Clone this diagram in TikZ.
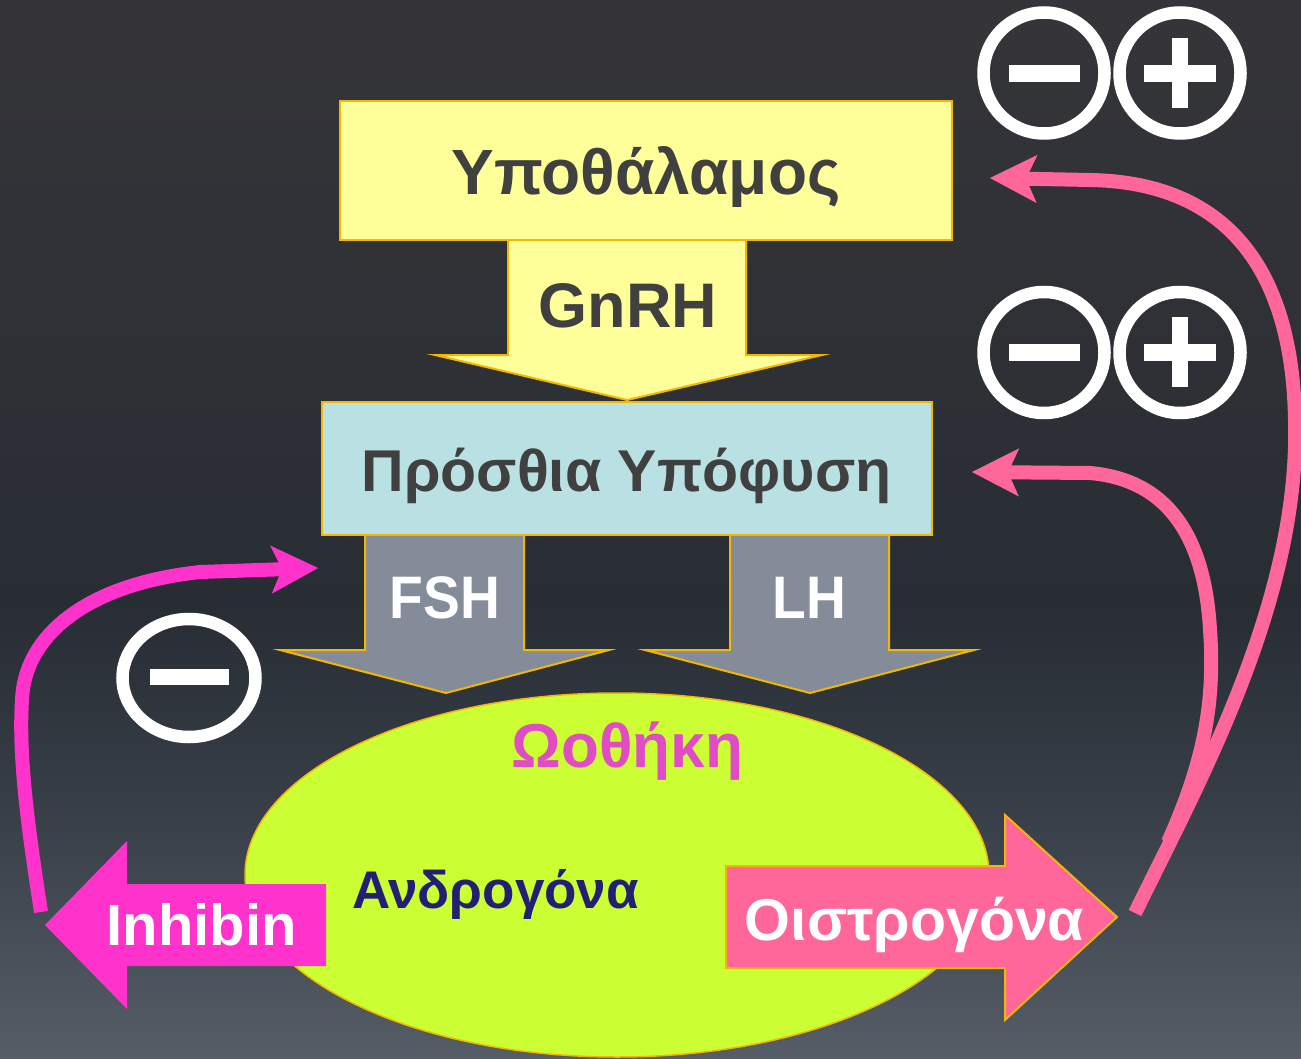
\documentclass[tikz,border=0pt]{standalone}
\usepackage{fontspec}
\setmainfont{Liberation Sans}
\usetikzlibrary{arrows.meta}

\definecolor{bgtop}{HTML}{353539}
\definecolor{bgupper}{HTML}{2F3136}
\definecolor{bgmid}{HTML}{282D34}
\definecolor{bglower}{HTML}{373E47}
\definecolor{bgbot}{HTML}{555D67}
\definecolor{edge}{HTML}{F2B705}
\definecolor{hypfill}{HTML}{FFFF99}
\definecolor{pitfill}{HTML}{B9E0E3}
\definecolor{gonfill}{HTML}{858C99}
\definecolor{ovfill}{HTML}{CCFF33}
\definecolor{darktext}{HTML}{404040}
\definecolor{ovtext}{HTML}{E04CC6}
\definecolor{andtext}{HTML}{221F75}
\definecolor{inhpink}{HTML}{FF33CC}
\definecolor{estpink}{HTML}{FF6699}

% background: dark at the middle, lighter towards the bottom
% (TikZ fits the path to the 25bp..75bp band of the shading)
\pgfdeclareverticalshading{backdrop}{100bp}{%
  color(0bp)=(bgbot); color(25bp)=(bgbot); color(37bp)=(bglower);
  color(46.5bp)=(bgmid); color(61bp)=(bgupper); color(75bp)=(bgtop);
  color(100bp)=(bgtop)}

\begin{document}
\begin{tikzpicture}[x=1pt,y=-1pt,
  boxstyle/.style={draw=edge, line width=2pt, inner sep=0pt, outer sep=0pt},
  blockarrow/.style={draw=edge, line width=2pt, line join=miter},
  lbl/.style={anchor=base, inner sep=0pt, font=\bfseries},
  feedback/.style={line width=14pt,
    -{Stealth[length=47pt,width=48pt,inset=11pt,line width=0.5pt]}},
  ring/.style={draw=white, line width=12.5pt},
  bar/.style={fill=white}
]
% background
\shade[shading=backdrop] (0,0) rectangle (1301,1059);
\useasboundingbox (0,0) rectangle (1301,1059);

% GnRH block arrow
\path[blockarrow, fill=hypfill] (508,238) -- (746,238) -- (746,355) -- (822,355)
  -- (627,400) -- (435,355) -- (508,355) -- cycle;

% hypothalamus box
\node[boxstyle, fill=hypfill, minimum width=612pt, minimum height=139pt] (hyp) at (646,171) {};
\node[lbl, text=darktext, font=\bfseries\fontsize{64}{64}\selectfont] (hyptxt) at (646,195) {Υποθάλαμος};
\node[lbl, text=darktext, font=\bfseries\fontsize{63}{63}\selectfont] (gnrh) at (628,327) {GnRH};

% FSH and LH block arrows
\path[blockarrow, fill=gonfill] (365,533) -- (524,533) -- (524,650) -- (609,650)
  -- (446,693) -- (280,650) -- (365,650) -- cycle;
\path[blockarrow, fill=gonfill] (730,533) -- (889,533) -- (889,650) -- (974,650)
  -- (810,693) -- (645,650) -- (730,650) -- cycle;

% anterior pituitary box
\node[boxstyle, fill=pitfill, minimum width=610pt, minimum height=133pt] (pit) at (627,468.5) {};
\node[lbl, text=darktext, font=\bfseries\fontsize{59}{59}\selectfont] (pittxt) at (626.5,491) {Πρόσθια Υπόφυση};
\node[lbl, text=white, xscale=0.92, font=\bfseries\fontsize{60}{60}\selectfont] (fsh) at (445,618) {FSH};
\node[lbl, text=white, xscale=0.92, font=\bfseries\fontsize{60}{60}\selectfont] (lh) at (809.5,618) {LH};

% ovary
\filldraw[draw=edge, line width=1.5pt, fill=ovfill] (617,875) ellipse [x radius=372pt, y radius=182pt];
\coordinate (ovary) at (617,875);
\node[lbl, text=ovtext, font=\bfseries\fontsize{62}{62}\selectfont] (ovtxt) at (627.5,767) {Ωοθήκη};
\node[lbl, text=andtext, font=\bfseries\fontsize{53}{53}\selectfont] (andr) at (495.5,908) {Ανδρογόνα};

% inhibin block arrow (left)
\fill[inhpink] (326,884) -- (127,884) -- (127,841) -- (45,925) -- (127,1009)
  -- (127,966) -- (326,966) -- cycle;
\node[lbl, text=white, font=\bfseries\fontsize{58}{58}\selectfont] (inh) at (201.5,945) {Inhibin};

% oestrogen block arrow (right)
\path[blockarrow, fill=estpink] (726,866) -- (1005,866) -- (1005,815) -- (1117,917)
  -- (1005,1020) -- (1005,968) -- (726,968) -- cycle;
\node[lbl, text=white, font=\bfseries\fontsize{59}{59}\selectfont] (est) at (914.5,940) {Οιστρογόνα};

% feedback loops
\coordinate (inhStart) at (41,912);
\coordinate (inhEnd) at (318,568);
\coordinate (estStart) at (1135,913);
\coordinate (hypEnd) at (990,178);
\coordinate (estJoin) at (1168,842);
\coordinate (pitEnd) at (972,472);

\draw[feedback, color=inhpink] (inhStart)
  .. controls (30,840) and (18,760) .. (22,700)
  .. controls (24,640) and (80,585) .. (200,572) -- (inhEnd);

\draw[feedback, color=estpink] (estStart)
  .. controls (1200,780) and (1300,600) .. (1295,420)
  .. controls (1292,250) and (1210,182) .. (1090,180) -- (hypEnd);

\draw[feedback, color=estpink] (estJoin)
  .. controls (1205,760) and (1215,700) .. (1210,630)
  .. controls (1205,540) and (1170,480) .. (1090,473) -- (pitEnd);

% sign symbols
\draw[ring] (1044,73) circle[radius=60.5pt];
\fill[bar] (1009,65) rectangle (1080,82);
\draw[ring] (1180,73) circle[radius=60.5pt];
\fill[bar] (1144,65) rectangle (1216,82);
\fill[bar] (1172,38) rectangle (1188,108);

\draw[ring] (1044,352.5) circle[radius=60.5pt];
\fill[bar] (1009,344) rectangle (1080,361);
\draw[ring] (1180,352.5) circle[radius=60.5pt];
\fill[bar] (1144,344) rectangle (1216,361);
\fill[bar] (1172,317) rectangle (1188,387);

\draw[ring] (189,678) ellipse [x radius=66.5pt, y radius=59pt];
\fill[bar] (150,669) rectangle (229,685);
\end{tikzpicture}
\end{document}
